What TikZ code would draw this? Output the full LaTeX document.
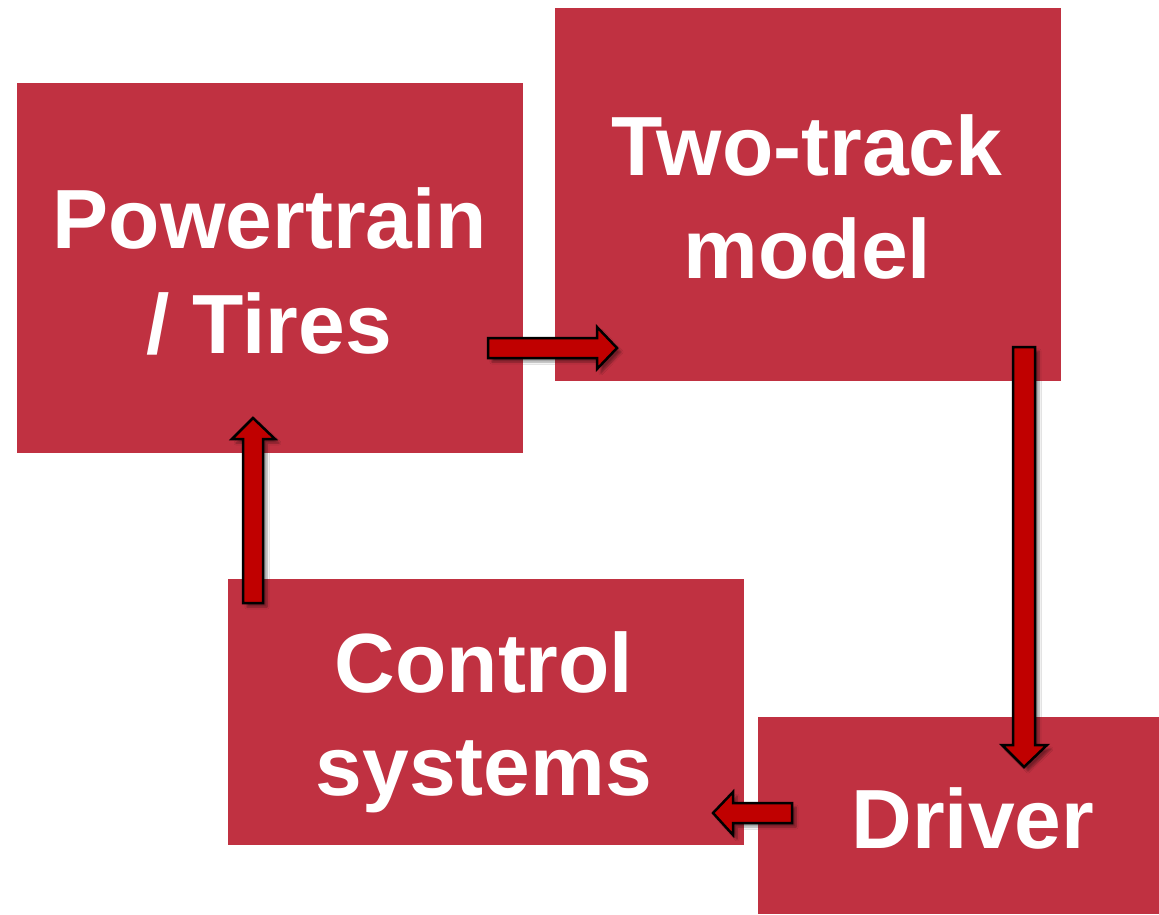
\documentclass[tikz,border=0pt]{standalone}
\usepackage{fontspec}
\setmainfont{Liberation Sans}
\usetikzlibrary{shadows.blur}
\definecolor{boxred}{RGB}{192,49,65}
\definecolor{arrred}{RGB}{192,0,0}
\begin{document}
\begin{tikzpicture}[x=1pt,y=-1pt,
  box/.style={rectangle, fill=boxred, inner sep=0pt},
  lbl/.style={anchor=base, inner sep=0pt, text=white,
    font=\bfseries\fontsize{84}{104}\selectfont},
  blockarrow/.style={fill=arrred, draw=black, line width=2.5pt, line join=miter,
    blur shadow={shadow xshift=4pt, shadow yshift=-4pt, shadow blur steps=6, shadow opacity=40}}]
\useasboundingbox (0,0) rectangle (1159,914);
\fill[white] (0,0) rectangle (1159,914);
% boxes
\node[box, minimum width=506pt, minimum height=370pt] (pt) at (270,268) {};
\node[box, minimum width=506pt, minimum height=373pt] (tt) at (808,194.5) {};
\node[box, minimum width=516pt, minimum height=266pt] (cs) at (486,712) {};
\node[box, minimum width=401pt, minimum height=197pt] (dr) at (958.5,815.5) {};
% texts
\node[lbl] (pt1) at (270,248) {Powertrain};
\node[lbl] (pt2) at (269,353) {/ Tires};
\node[lbl] (tt1) at (807,175) {Two-track};
\node[lbl] (tt2) at (807.5,278) {model};
\node[lbl] (cs1) at (484,692) {Control};
\node[lbl] (cs2) at (484,795) {systems};
\node[lbl] (dr1) at (973,848) {Driver};
% arrows
\draw[blockarrow] (488,338) -- (597,338) -- (597,327) -- (617,348) -- (597,369) -- (597,358) -- (488,358) -- cycle;
\draw[blockarrow] (1013,347) -- (1035,347) -- (1035,745) -- (1047,745) -- (1024,767) -- (1002,745) -- (1013,745) -- cycle;
\draw[blockarrow] (792,803) -- (733,803) -- (733,792) -- (713,813) -- (733,835) -- (733,823) -- (792,823) -- cycle;
\draw[blockarrow] (243,603) -- (243,439) -- (232,439) -- (253,418) -- (275,439) -- (263,439) -- (263,603) -- cycle;
\end{tikzpicture}
\end{document}
